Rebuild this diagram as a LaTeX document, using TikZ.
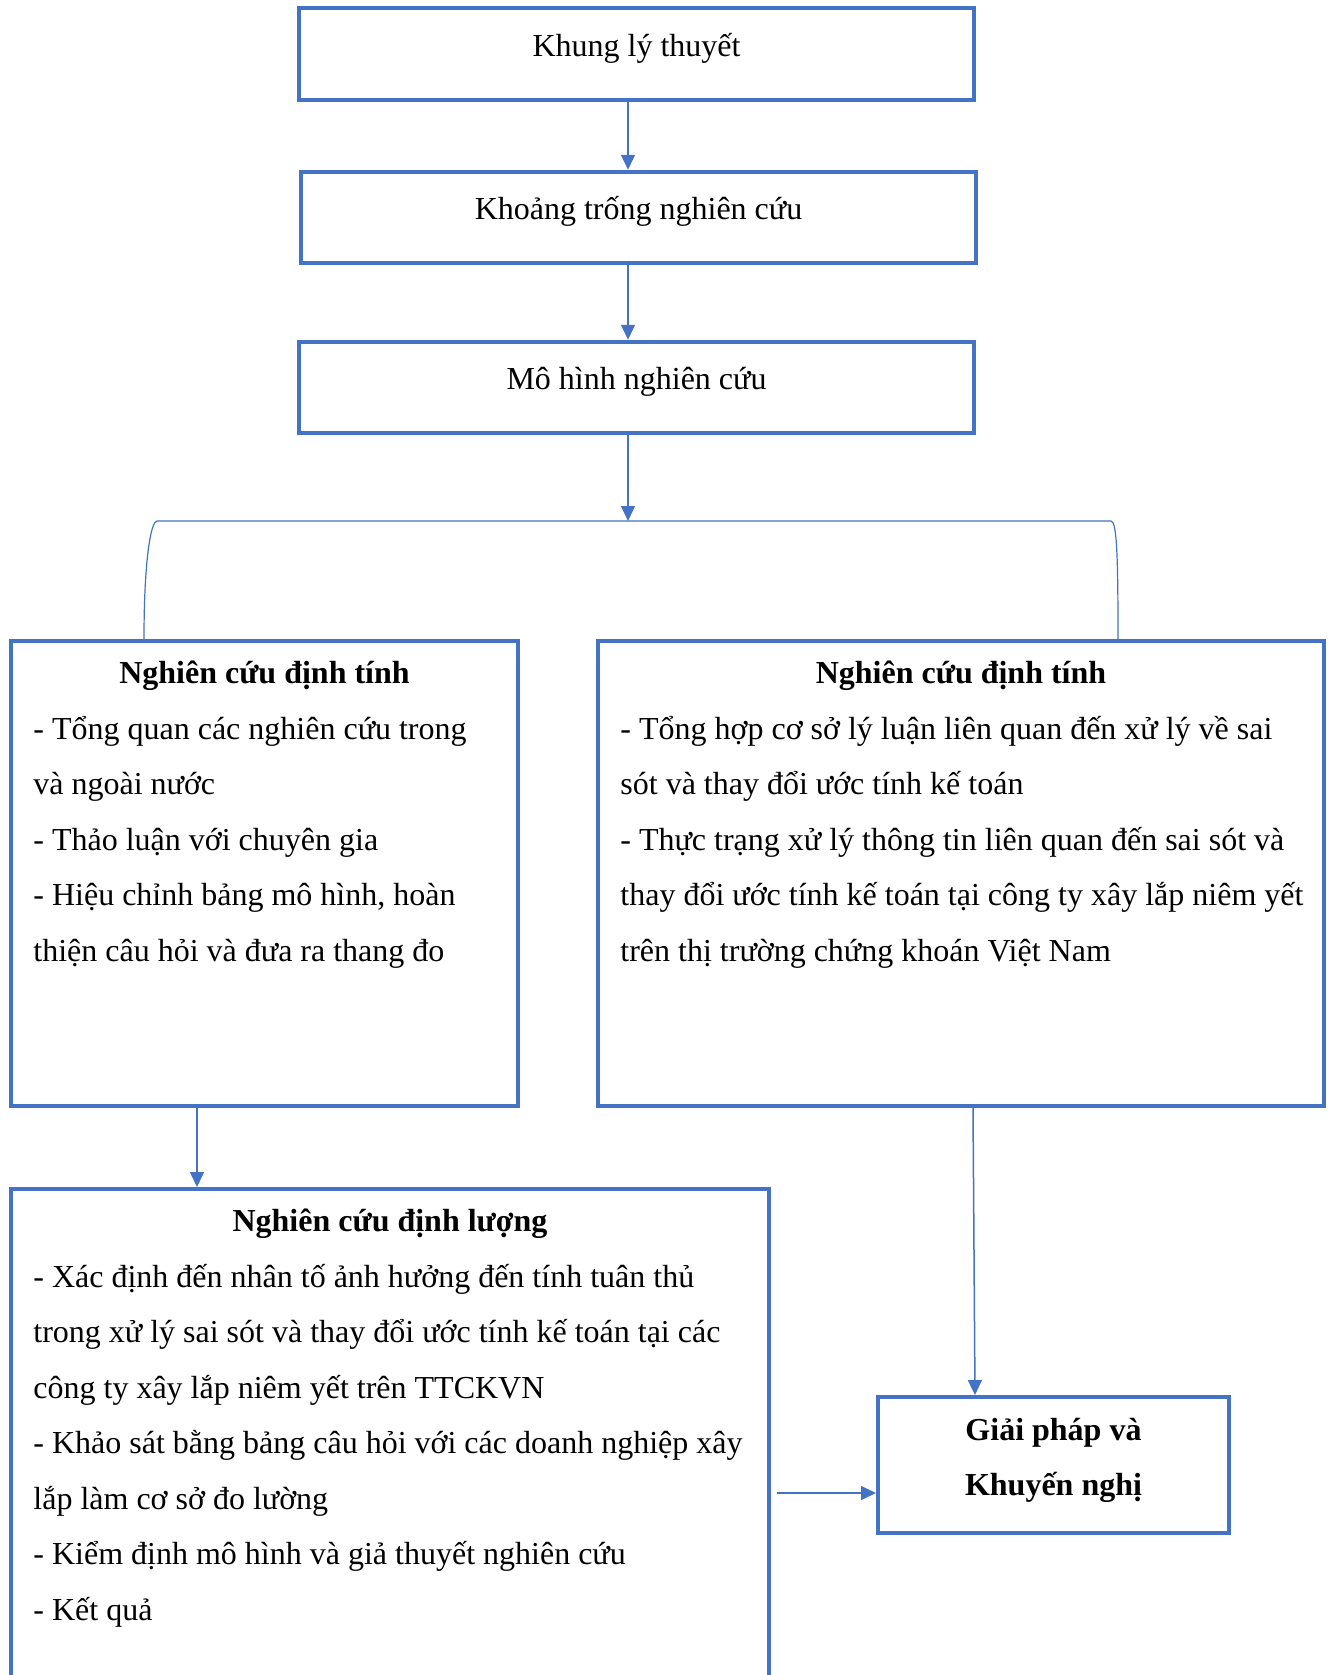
\documentclass[tikz,border=0pt]{standalone}
\usepackage{fontspec}
\setmainfont{Liberation Serif}
\usetikzlibrary{arrows.meta,calc}
\definecolor{wordblue}{HTML}{4472C4}
\newcommand{\txtsize}{\fontsize{16pt}{27.75pt}\selectfont}
\tikzset{
  stepbox/.style={draw=wordblue, line width=2pt, inner sep=0pt, minimum width=337.5pt,
                  text height=24pt, text depth=21.75pt},
  bigbox/.style={draw=wordblue, line width=2pt, inner sep=0pt},
  boxtitle/.style={anchor=base, inner sep=0pt, font=\txtsize\bfseries},
  boxtext/.style={anchor=base west, inner sep=0pt, align=left, text width=400pt,
                  execute at begin node={\spaceskip=0pt\xspaceskip=0pt\relax}},
  arrow/.style={draw=wordblue, line width=0.75pt, -{Triangle[length=7.5pt,width=7pt]}},
  link/.style={draw=wordblue, line width=0.6pt},
}
\begin{document}
\begin{tikzpicture}[x=0.5pt, y=-0.5pt, font=\txtsize]
\useasboundingbox (0,0) rectangle (1334,1675);
% top boxes
\node[stepbox] (theory) at (636.5,54.25)  {Khung lý thuyết};
\node[stepbox] (gap)    at (638.5,217.5)  {Khoảng trống nghiên cứu};
\node[stepbox] (model)  at (636.5,387.5)  {Mô hình nghiên cứu};
\coordinate (split) at (628,521);
% qualitative boxes
\node[bigbox, minimum width=253.5pt, minimum height=232.5pt] (qualA) at (264.5,873.5) {};
\node[bigbox, minimum width=363pt,   minimum height=232.5pt] (qualB) at (961,873.5)   {};
\node[boxtitle] (qualAtitle) at ($(qualA.north)+(0,44.5)$) {Nghiên cứu định tính};
\node[boxtitle] (qualBtitle) at ($(qualB.north)+(0,44.5)$) {Nghiên cứu định tính};
\node[boxtext] (qualAtext) at ($(qualA.north west)+(24,100)$)
  {- Tổng quan các nghiên cứu trong\\
   và ngoài nước\\
   - Thảo luận với chuyên gia\\
   - Hiệu chỉnh bảng mô hình, hoàn\\
   thiện câu hỏi và đưa ra thang đo};
\node[boxtext] (qualBtext) at ($(qualB.north west)+(24,100)$)
  {- Tổng hợp cơ sở lý luận liên quan đến xử lý về sai\\
   sót và thay đổi ước tính kế toán\\
   - Thực trạng xử lý thông tin liên quan đến sai sót và\\
   thay đổi ước tính kế toán tại công ty xây lắp niêm yết\\
   trên thị trường chứng khoán Việt Nam};
% quantitative box and result
\node[bigbox, minimum width=379pt, minimum height=255.5pt] (quant) at (390,1444.5) {};
\node[boxtitle] (quanttitle) at ($(quant.north)+(0,44.5)$) {Nghiên cứu định lượng};
\node[boxtext] (quanttext) at ($(quant.north west)+(24,100)$)
  {- Xác định đến nhân tố ảnh hưởng đến tính tuân thủ\\
   trong xử lý sai sót và thay đổi ước tính kế toán tại các\\
   công ty xây lắp niêm yết trên TTCKVN\\
   - Khảo sát bằng bảng câu hỏi với các doanh nghiệp xây\\
   lắp làm cơ sở đo lường\\
   - Kiểm định mô hình và giả thuyết nghiên cứu\\
   - Kết quả};
\node[bigbox, minimum width=175.5pt, minimum height=68pt] (advice) at (1053.5,1465) {};
\node[inner sep=0pt, align=center, font=\txtsize\bfseries,
      execute at begin node={\spaceskip=0pt\xspaceskip=0pt\relax}] (advicetext)
  at ($(advice.center)+(0,-4.5)$) {Giải pháp và\\Khuyến nghị};
\coordinate (advin) at ($(advice.west)+(0,28)$);
% arrows
\draw[arrow] (theory.south -| split) -- (gap.north -| split);
\draw[arrow] (gap.south -| split)    -- (model.north -| split);
\draw[arrow] (model.south -| split)  -- (split);
\draw[link] ($(qualA.north west)+(135,0)$) .. controls +(0,-80) and +(-6,0) .. ($(split)+(-471,0)$)
   -- ($(split)+(483,0)$) .. controls +(6,0) and +(0,-80) .. ($(qualB.north west)+(522,0)$);
\draw[arrow] ($(qualA.south west)+(188,-3)$) -- ($(quant.north west)+(188,0)$);
\draw[arrow] ($(qualB.south west)+(377,0)$)  -- ($(advice.north west)+(99,0)$);
\draw[arrow] ($(quant.east |- advin)+(6,0)$) -- (advin);
\end{tikzpicture}
\end{document}
